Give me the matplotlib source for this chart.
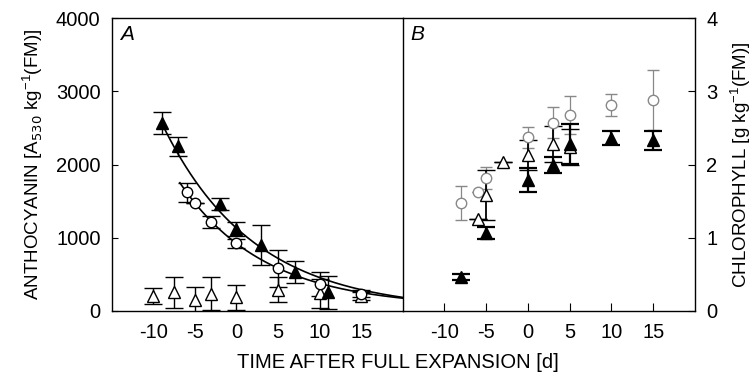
import numpy as np
import matplotlib
matplotlib.use("Agg")
import matplotlib.pyplot as plt

plt.rcParams['font.family'] = ['Liberation Sans', 'DejaVu Sans']
plt.rcParams['axes.unicode_minus'] = False

# ---- panel A: anthocyanin ----
a_fill_day = [-9, -7, -2, 0, 3, 7, 11]
a_fill_val = [2570, 2250, 1460, 1120, 900, 535, 250]
a_fill_err = [150, 130, 80, 100, 270, 150, 230]

a_circ_day = [-6, -5, -3, 0, 5, 10, 15]
a_circ_val = [1620, 1480, 1215, 920, 580, 360, 235]
a_circ_err = [130, 0, 85, 60, 255, 165, 50]

a_open_day = [-10, -7.5, -5, -3, 0, 5, 10, 15]
a_open_val = [195, 250, 150, 235, 185, 285, 240, 200]
a_open_err = [110, 210, 170, 230, 170, 170, 200, 60]

# exponential fits y = a*exp(-b*t) + c, with drawn range
fit_fill = dict(a=1130, b=0.0913, c=0, t0=-9.0, t1=20)
fit_circ = dict(a=870, b=0.0985, c=50, t0=-6.8, t1=20)

# ---- panel B: chlorophyll ----
b_fill_day = [-8, -5, 0, 3, 5, 10, 15]
b_fill_val = [0.46, 1.06, 1.79, 1.99, 2.28, 2.36, 2.33]
b_fill_err = [0.04, 0.08, 0.16, 0.11, 0.27, 0.10, 0.13]

b_open_day = [-6, -5, -3, 0, 3, 5]
b_open_val = [1.25, 1.58, 2.03, 2.13, 2.28, 2.24]
b_open_err = [0, 0.34, 0, 0.20, 0.25, 0.25]

b_circ_day = [-8, -6, -5, 0, 3, 5, 10, 15]
b_circ_val = [1.47, 1.62, 1.81, 2.37, 2.57, 2.68, 2.81, 2.88]
b_circ_err = [0.23, 0, 0.15, 0.14, 0.21, 0.26, 0.15, 0.41]

FS = 14.5
LFS = 13.5
W, H = 754, 373
fig = plt.figure(figsize=(W / 100, H / 100), dpi=100)
axA = fig.add_axes([111.7 / W, 1 - 310.7 / H, 291 / W, 292.4 / H])
axB = fig.add_axes([402.7 / W, 1 - 310.7 / H, 292.3 / W, 292.4 / H])

ms_tri, ms_circ = 8.5, 7.5
kw = dict(linestyle="none", ecolor="black", elinewidth=1.0, capthick=1.0, capsize=6.5)

# open triangles (A)
axA.errorbar(a_open_day, a_open_val, yerr=a_open_err, marker="^", ms=ms_tri,
             mfc="white", mec="black", mew=1.0, **kw)
# fitted curves
for f in (fit_fill, fit_circ):
    t = np.linspace(f["t0"], f["t1"], 200)
    axA.plot(t, f["a"] * np.exp(-f["b"] * t) + f["c"], color="black", lw=1.2)
axA.errorbar(a_circ_day, a_circ_val, yerr=a_circ_err, marker="o", ms=ms_circ,
             mfc="white", mec="black", mew=1.0, **kw)
axA.errorbar(a_fill_day, a_fill_val, yerr=a_fill_err, marker="^", ms=ms_tri,
             mfc="black", mec="black", **kw)

axA.set_xlim(-15, 20)
axA.set_ylim(0, 4000)
axA.set_xticks([-10, -5, 0, 5, 10, 15])
axA.set_yticks([0, 1000, 2000, 3000, 4000])
axA.tick_params(axis="x", length=0, pad=9, labelsize=FS)
axA.tick_params(axis="y", direction="in", length=4, pad=8, labelsize=FS)
axA.spines["right"].set_visible(False)
axA.set_ylabel(r"ANTHOCYANIN [A$_{530}$ kg$^{\mathregular{-1}}$(FM)]", fontsize=LFS, labelpad=8)
axA.text(0.028, 0.925, "A", transform=axA.transAxes, fontsize=15, style="italic")

# panel B
axB.errorbar(b_circ_day, b_circ_val, yerr=b_circ_err, marker="o", ms=ms_circ,
             mfc="white", mec="#888888", mew=1.0, linestyle="none",
             ecolor="#888888", elinewidth=0.9, capthick=0.9, capsize=4)
axB.errorbar(b_open_day, b_open_val, yerr=b_open_err, marker="^", ms=ms_tri,
             mfc="white", mec="black", mew=1.0, linestyle="none", ecolor="black",
             elinewidth=1.3, capthick=1.3, capsize=6.5)
axB.errorbar(b_fill_day, b_fill_val, yerr=b_fill_err, marker="^", ms=ms_tri,
             mfc="black", mec="black", linestyle="none", ecolor="black",
             elinewidth=1.6, capthick=1.6, capsize=6.5)

axB.set_xlim(-15, 20)
axB.set_ylim(0, 4)
axB.set_xticks([-10, -5, 0, 5, 10, 15])
axB.set_yticks([0, 1, 2, 3, 4])
axB.yaxis.tick_right()
axB.yaxis.set_label_position("right")
axB.tick_params(axis="x", direction="in", length=6, pad=9, labelsize=FS)
axB.tick_params(axis="y", direction="in", length=5, pad=8, labelsize=FS)
axB.set_ylabel(r"CHLOROPHYLL [g kg$^{\mathregular{-1}}$(FM)]", fontsize=LFS, labelpad=8)
axB.text(0.025, 0.925, "B", transform=axB.transAxes, fontsize=15, style="italic")

for ax in (axA, axB):
    for s in ax.spines.values():
        s.set_linewidth(1.0)

fig.text(398 / W, 1 - 362 / H, "TIME AFTER FULL EXPANSION [d]", ha="center",
         va="center", fontsize=14.5)

fig.savefig("out.png", dpi=100)
